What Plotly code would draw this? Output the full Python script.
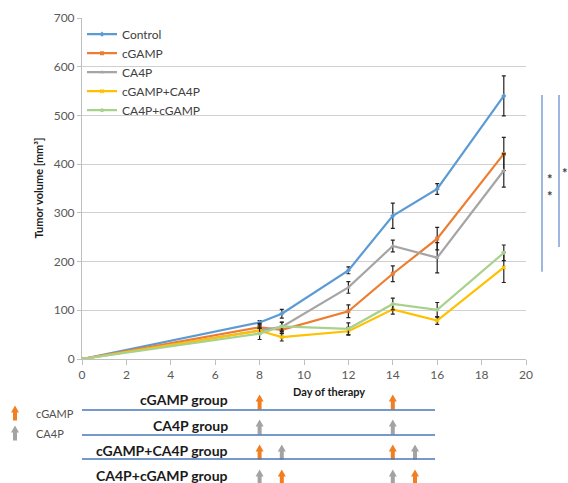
import plotly.graph_objects as go

# ---------------- data ----------------
days = [0, 8, 9, 12, 14, 16, 19]
series_names = ["Control", "cGAMP", "CA4P", "cGAMP+CA4P", "CA4P+cGAMP"]
control = [0, 75, 93, 182, 294, 349, 540]
control_err = [0, 4, 9, 7, 26, 11, 41]
cgamp = [0, 65, 60, 98, 175, 247, 421]
cgamp_err = [0, 8, 8, 13, 16, 23, 34]
ca4p = [0, 60, 66, 147, 232, 208, 387]
ca4p_err = [0, 8, 10, 12, 12, 31, 34]
cgamp_ca4p = [0, 58, 45, 57, 102, 79, 188]
cgamp_ca4p_err = [0, 5, 8, 8, 10, 8, 31]
ca4p_cgamp = [0, 52, 67, 62, 113, 101, 218]
ca4p_cgamp_err = [0, 12, 8, 12, 12, 15, 16]

x_ticks = [0, 2, 4, 6, 8, 10, 12, 14, 16, 18, 20]
y_ticks = [0, 100, 200, 300, 400, 500, 600, 700]

# dosing schedule (day of injection, drug)
group_labels = ["cGAMP group", "CA4P group", "cGAMP+CA4P group", "CA4P+cGAMP group"]
group_doses = [
    [(8, "cGAMP"), (14, "cGAMP")],
    [(8, "CA4P"), (14, "CA4P")],
    [(8, "cGAMP"), (9, "CA4P"), (14, "cGAMP"), (15, "CA4P")],
    [(8, "CA4P"), (9, "cGAMP"), (14, "CA4P"), (15, "cGAMP")],
]
drug_names = ["cGAMP", "CA4P"]

# significance brackets (value range on the y axis)
sig_ranges = [(179, 542), (230, 542)]
sig_stars = [(1.054, 369), (1.054, 334), (1.088, 381)]

# ---------------- styles ----------------
colors = ["#5B9BD5", "#ED7D31", "#A5A5A5", "#FFC000", "#A9D18E"]
markers = ["diamond", "square", "triangle-up", "x", "circle"]
drug_colors = {"cGAMP": "#F07F22", "CA4P": "#A3A3A3"}
FONT = "Lato"
TXT = "#404040"

W, H = 568, 483
ML, MR, MT, MB = 82, 42, 18, 124
PW, PH = W - ML - MR, H - MT - MB
XMAX = 20
px_x = XMAX / PW       # days per pixel
px_y = 1.0 / PH        # paper per pixel

fig = go.Figure()
values = [control, cgamp, ca4p, cgamp_ca4p, ca4p_cgamp]
errors = [control_err, cgamp_err, ca4p_err, cgamp_ca4p_err, ca4p_cgamp_err]
for i, name in enumerate(series_names):
    fig.add_trace(go.Scatter(
        x=days, y=values[i], name=name, mode="lines+markers",
        line=dict(color=colors[i], width=2.2),
        marker=dict(color=colors[i], size=4, symbol=markers[i]),
        error_y=dict(type="data", array=errors[i], visible=True,
                     color="#222222", thickness=1.2, width=2),
        legendgroup=name,
    ))

shapes = []
annotations = []


def arrow(cx, cy, xunit, color, xref):
    hw, sw = 4 * xunit, 2 * xunit
    yb, yh, yt = cy - 7.5 * px_y, cy + 0.5 * px_y, cy + 7.5 * px_y
    path = (f"M {cx - sw},{yb} L {cx - sw},{yh} L {cx - hw},{yh} L {cx},{yt} "
            f"L {cx + hw},{yh} L {cx + sw},{yh} L {cx + sw},{yb} Z")
    return dict(type="path", path=path, xref=xref, yref="paper",
                fillcolor=color, line=dict(width=0), layer="above")


row_text_px = [400, 425, 450, 475]
row_line_px = [410, 435, 459]
for r, label in enumerate(group_labels):
    cy = (PH + MT - row_text_px[r]) * px_y
    annotations.append(dict(text=f"<b>{label}</b>", x=(230 - ML) / PW, y=cy,
                            xref="paper", yref="paper", xanchor="right",
                            yanchor="middle", showarrow=False,
                            font=dict(size=14, color="#1a1a1a", family=FONT)))
    for d, drug in group_doses[r]:
        shapes.append(arrow(d, cy - 2 * px_y, px_x, drug_colors[drug], "x"))
for ly in row_line_px:
    yy = (PH + MT - ly) * px_y
    shapes.append(dict(type="line", xref="paper", yref="paper",
                       x0=0, x1=(435 - ML) / PW, y0=yy, y1=yy,
                       line=dict(color="#4A76BC", width=1.3)))

# drug legend (left)
for k, (drug, lpx) in enumerate(zip(drug_names, [413, 433])):
    cy = (PH + MT - lpx) * px_y
    shapes.append(arrow((15 - ML) / PW, cy, 1.0 / PW, drug_colors[drug], "paper"))
    annotations.append(dict(text=drug, x=(34 - ML) / PW, y=cy, xref="paper",
                            yref="paper", xanchor="left", yanchor="middle",
                            showarrow=False,
                            font=dict(size=11, color="#505050", family=FONT)))

# significance lines
for k, (lo, hi) in enumerate(sig_ranges):
    xx = (542 + 17 * k - ML) / PW
    shapes.append(dict(type="line", xref="paper", yref="y", x0=xx, x1=xx,
                       y0=lo, y1=hi, line=dict(color="#7F9FD6", width=1.5)))
for sx, sy in sig_stars:
    annotations.append(dict(text="<b>*</b>", x=sx, y=sy, xref="paper", yref="y",
                            showarrow=False, xanchor="center", yanchor="middle",
                            font=dict(size=13, color=TXT, family=FONT)))

# axis titles
annotations.append(dict(text="<b>Day of therapy</b>", x=(329 - ML) / PW,
                        y=(PH + MT - 392) * px_y, xref="paper", yref="paper",
                        showarrow=False, xanchor="center", yanchor="middle",
                        font=dict(size=11, color="#1a1a1a", family=FONT)))
annotations.append(dict(text="<b>Tumor volume [mm³]</b>", x=(38 - ML) / PW,
                        y=0.5, xref="paper", yref="paper", textangle=-90,
                        showarrow=False, xanchor="center", yanchor="middle",
                        font=dict(size=11, color="#1a1a1a", family=FONT)))

fig.update_layout(
    width=W, height=H,
    margin=dict(l=ML, r=MR, t=MT, b=MB, autoexpand=False),
    paper_bgcolor="white", plot_bgcolor="white",
    font=dict(family=FONT, size=11, color=TXT),
    showlegend=True,
    legend=dict(x=0.0, y=0.995, xanchor="left", yanchor="top",
                bgcolor="rgba(0,0,0,0)", font=dict(size=12, color=TXT),
                tracegroupgap=10, traceorder="normal"),
    shapes=shapes, annotations=annotations,
)
fig.update_xaxes(range=[0, XMAX], tickvals=x_ticks, ticktext=[str(v) for v in x_ticks],
                 showgrid=False, zeroline=False, showline=True,
                 linecolor="#BFBFBF", linewidth=1, ticks="outside", ticklen=5,
                 tickcolor="#BFBFBF", tickfont=dict(size=12, color="#595959"),
                 fixedrange=True)
fig.update_yaxes(range=[0, 700], tickvals=y_ticks, showgrid=True,
                 gridcolor="#D0D0D0", gridwidth=1, zeroline=False, showline=True,
                 linecolor="#BFBFBF", linewidth=1, ticks="outside", ticklen=4,
                 tickcolor="#BFBFBF", tickfont=dict(size=12, color="#595959"),
                 fixedrange=True)

fig.write_html("out.html")
